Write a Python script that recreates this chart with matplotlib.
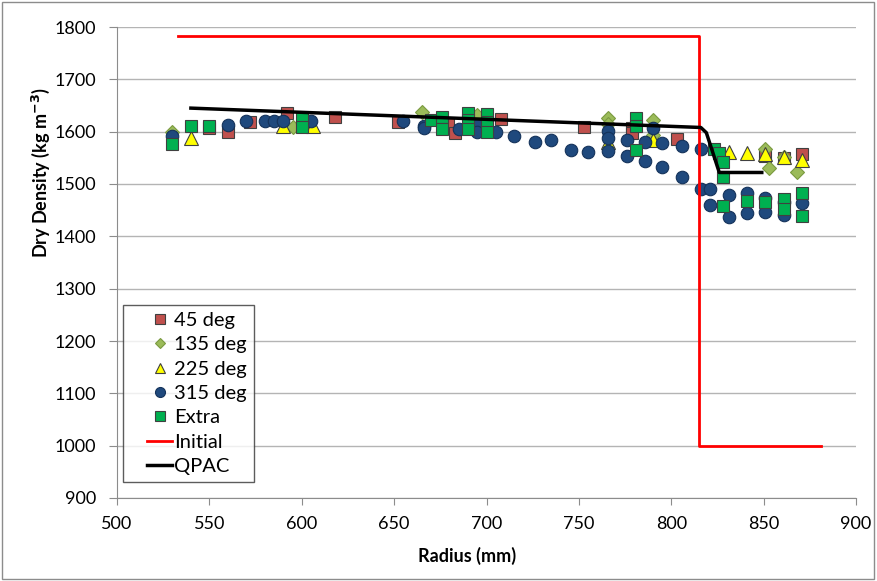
import numpy as np
import matplotlib.pyplot as plt
from matplotlib.patches import Rectangle
from matplotlib.legend_handler import HandlerLine2D

plt.rcParams['font.family'] = ['Lato', 'DejaVu Sans']

# measured dry density data (radius mm, density kg/m3)
r45 = [550, 560, 572, 592, 618, 652, 679, 683, 708, 753, 779, 779, 803, 851, 861, 871]
d45 = [1607, 1600, 1618, 1635, 1628, 1618, 1615, 1597, 1624, 1609, 1607, 1598, 1586, 1553, 1549, 1557]

r135 = [530, 595, 665, 695, 766, 766, 790, 790, 851, 853, 861, 868]
d135 = [1600, 1609, 1637, 1632, 1626, 1615, 1622, 1594, 1567, 1531, 1552, 1523]

r225 = [540, 590, 606, 766, 790, 831, 841, 851, 861, 871]
d225 = [1588, 1610, 1610, 1580, 1584, 1561, 1560, 1557, 1552, 1546]

r315 = [530, 560, 570, 580, 585, 590, 605, 655, 666, 666, 685, 695, 695, 705,
        715, 726, 735, 746, 755, 766, 766, 766, 776, 776, 786, 786, 790,
        795, 795, 806, 806, 816, 816, 821, 821, 831, 831, 841, 841,
        851, 851, 861, 861, 871]
d315 = [1592, 1613, 1620, 1620, 1620, 1620, 1620, 1620, 1611, 1607, 1605, 1613, 1600, 1600,
        1592, 1580, 1584, 1565, 1561, 1601, 1588, 1563, 1584, 1553, 1580, 1544, 1607,
        1578, 1533, 1572, 1513, 1567, 1490, 1490, 1460, 1479, 1437, 1483, 1444,
        1473, 1446, 1466, 1441, 1464]

rex = [530, 540, 550, 600, 600, 670, 676, 676, 690, 690, 690, 700, 700, 700,
       781, 781, 781, 823, 826, 828, 828, 828, 841, 851, 861, 861, 871, 871]
dex = [1576, 1611, 1611, 1626, 1609, 1622, 1628, 1605, 1635, 1622, 1605, 1633, 1618, 1600,
       1626, 1610, 1565, 1567, 1559, 1542, 1513, 1458, 1467, 1465, 1471, 1452, 1483, 1439]

r_init = [533, 815, 815, 881]
d_init = [1782, 1782, 1000, 1000]

r_qpac = [540, 816, 819, 826, 849]
d_qpac = [1645, 1608, 1598, 1522, 1522]


class ShiftedHandler(HandlerLine2D):
    # draw the legend handle in the right part of the handle box only
    def create_artists(self, legend, orig_handle, xdescent, ydescent,
                       width, height, fontsize, trans):
        shift = width * 0.41
        return super().create_artists(legend, orig_handle, xdescent - shift, ydescent,
                                      width - shift, height, fontsize, trans)


fig = plt.figure(figsize=(8.77, 5.81), dpi=100)
ax = fig.add_axes([117 / 877, 1 - 498 / 581, (856 - 117) / 877, (498 - 27) / 581])

edge = '#404040'
ax.plot(r45, d45, 's', ms=8.5, mfc='#C0504D', mec=edge, mew=0.8, ls='none', label='45 deg')
ax.plot(r135, d135, 'D', ms=7, mfc='#9BBB59', mec='#7a9a40', mew=0.8, ls='none', label='135 deg')
ax.plot(r225, d225, '^', ms=9.5, mfc='#FFFF00', mec=edge, mew=0.8, ls='none', label='225 deg')
ax.plot(r315, d315, 'o', ms=9, mfc='#1F497D', mec='#14325a', mew=0.8, ls='none', label='315 deg')
ax.plot(rex, dex, 's', ms=8.5, mfc='#00B050', mec=edge, mew=0.8, ls='none', label='Extra')
ax.plot(r_init, d_init, '-', color='#FF0000', lw=2, label='Initial')
ax.plot(r_qpac, d_qpac, '-', color='black', lw=2.5, label='QPAC')

ax.set_xlim(500, 900)
ax.set_ylim(900, 1800)
ax.set_xticks(range(500, 901, 50))
ax.set_yticks(range(900, 1801, 100))
ax.grid(axis='y', color='#b4b4b4', lw=1)
ax.set_axisbelow(True)
for s in ['top', 'right']:
    ax.spines[s].set_visible(False)
for s in ['left', 'bottom']:
    ax.spines[s].set_color('#8c8c8c')
ax.tick_params(axis='x', direction='out', length=5, color='#8c8c8c', labelsize=13, pad=8)
ax.tick_params(axis='y', direction='out', length=6, color='#8c8c8c', labelsize=13, pad=9)

ax.set_xlabel('Radius (mm)', fontsize=13, fontweight='bold')
ax.set_ylabel('Dry Density (kg m$^{\\mathbf{-3}}$)', fontsize=13, fontweight='bold')
ax.xaxis.set_label_coords(0.474, -0.104)
ax.yaxis.set_label_coords(-0.088, 0.69)

leg = ax.legend(loc='lower left', bbox_to_anchor=(6 / 739, 16 / 471), borderaxespad=0,
                fontsize=14.5, frameon=True, fancybox=False, edgecolor='#333333',
                handlelength=2.1, handletextpad=0.1, borderpad=0.35,
                labelspacing=0.36, markerscale=0.8,
                handler_map={plt.Line2D: ShiftedHandler()})
leg.get_frame().set_linewidth(1)

fig.patches.append(Rectangle((0.002, 0.003), 0.995, 0.993, transform=fig.transFigure,
                             fill=False, ec='#8c8c8c', lw=1))

fig.savefig('out.png', dpi=100)
